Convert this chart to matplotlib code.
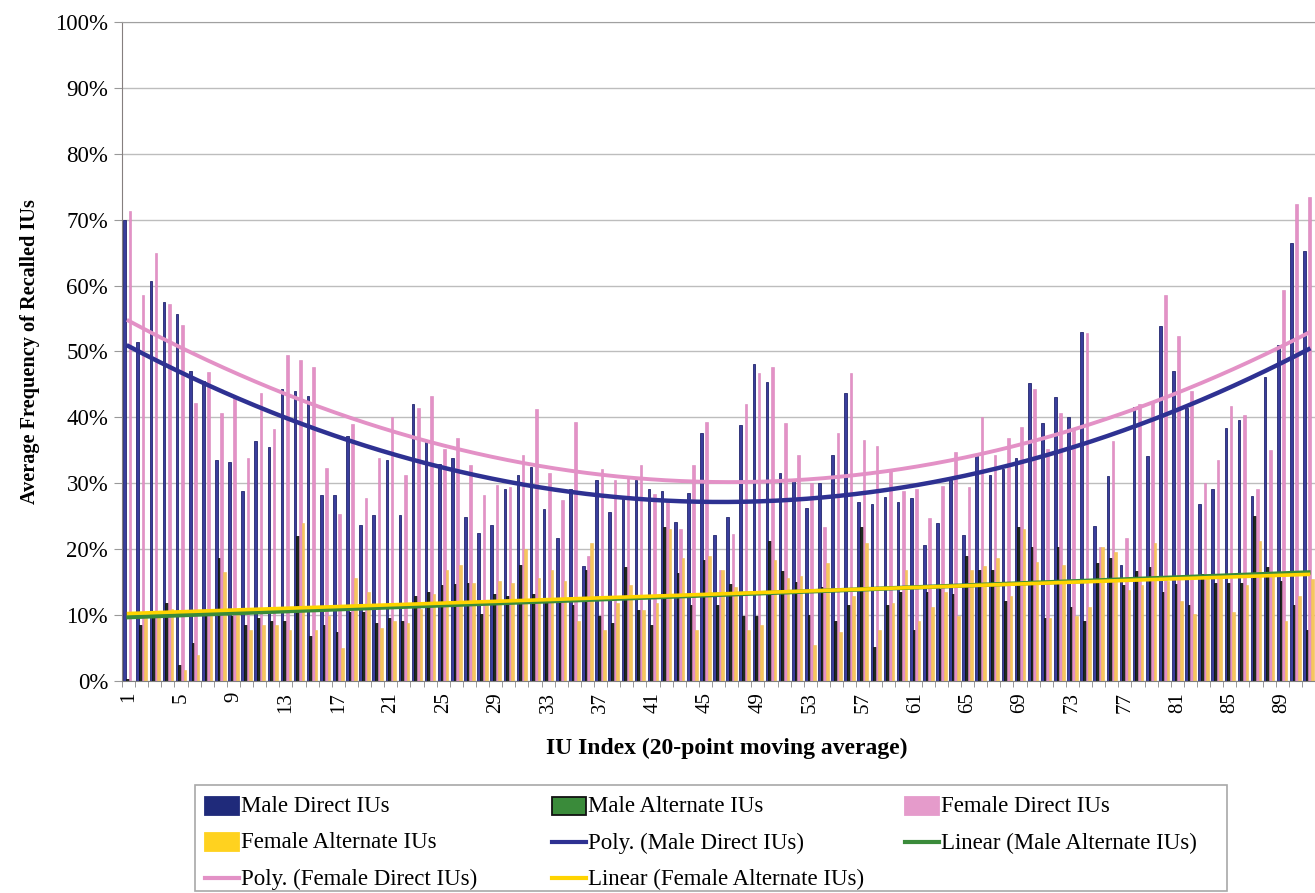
import numpy as np
import matplotlib
matplotlib.use("Agg")
import matplotlib.pyplot as plt
from matplotlib.patches import Rectangle
from matplotlib.ticker import PercentFormatter, MultipleLocator

plt.rcParams['font.family'] = ['Liberation Serif', 'DejaVu Serif']

# IU index 1..91 (the chart is cut at the right edge)
iu_index = np.arange(1, 92)

male_direct = [70.0, 51.5, 60.7, 57.5, 55.7, 47.0, 45.5, 33.6, 33.2, 28.9,
               36.4, 35.5, 44.3, 44.0, 43.3, 28.2, 28.2, 37.2, 23.7, 25.2,
               33.6, 25.2, 42.0, 36.2, 33.0, 33.9, 24.9, 22.5, 23.7, 29.1,
               31.3, 32.5, 26.1, 21.7, 29.1, 17.5, 30.5, 25.7, 27.8, 30.5,
               29.1, 28.9, 24.2, 28.6, 37.6, 22.1, 24.9, 38.8, 48.1, 45.4,
               31.5, 30.3, 26.2, 30.1, 34.3, 43.7, 27.2, 26.9, 27.9, 27.1,
               27.8, 20.7, 23.9, 30.5, 22.2, 34.3, 31.3, 32.2, 33.9, 45.2,
               39.1, 43.1, 40.0, 52.9, 23.5, 31.1, 17.6, 41.6, 34.2, 53.8,
               47.1, 41.5, 26.9, 29.1, 38.4, 39.6, 28.0, 46.2, 51.0, 66.4,
               65.3]

male_alternate = [0.3, 8.5, 10.2, 11.8, 2.4, 5.8, 10.5, 18.6, 9.8, 8.5,
                  9.5, 9.1, 9.1, 22.0, 6.8, 8.5, 7.4, 10.5, 10.5, 8.8,
                  9.5, 9.1, 12.9, 13.5, 14.6, 14.7, 14.9, 10.2, 13.2, 12.9,
                  17.6, 13.2, 12.5, 12.5, 11.5, 16.9, 9.8, 8.8, 17.3, 10.8,
                  8.5, 23.4, 16.4, 11.5, 18.3, 11.5, 14.7, 9.8, 9.8, 21.3,
                  16.7, 15.0, 10.0, 14.2, 9.1, 11.6, 23.4, 5.1, 11.5, 13.5,
                  7.8, 13.5, 13.9, 13.2, 19.0, 16.9, 16.9, 12.2, 23.4, 20.3,
                  9.5, 20.3, 11.3, 9.1, 17.9, 18.6, 14.6, 16.7, 17.3, 13.5,
                  14.7, 11.5, 16.2, 14.9, 14.9, 14.9, 25.1, 17.3, 15.2, 11.5,
                  7.8]

female_direct = [71.3, 58.6, 65.0, 57.2, 54.0, 42.2, 46.9, 40.6, 43.0, 33.8,
                 43.7, 38.3, 49.4, 48.7, 47.7, 32.3, 25.3, 39.0, 27.8, 33.9,
                 40.0, 31.3, 41.5, 43.3, 35.2, 36.8, 32.7, 28.2, 29.8, 29.5,
                 34.3, 41.3, 31.6, 27.4, 39.3, 19.0, 32.2, 30.5, 30.8, 32.8,
                 28.4, 27.1, 23.0, 32.8, 39.3, 16.9, 22.3, 42.0, 46.7, 47.6,
                 39.1, 34.3, 30.1, 23.4, 37.6, 46.7, 36.6, 35.7, 31.8, 28.8,
                 29.1, 24.7, 29.6, 34.7, 29.5, 40.1, 34.3, 36.8, 38.6, 44.3,
                 35.2, 40.6, 38.3, 52.8, 20.3, 36.4, 21.7, 42.0, 42.3, 58.6,
                 52.4, 44.0, 30.0, 33.5, 41.8, 40.3, 29.1, 35.0, 59.4, 72.4,
                 73.5]

female_alternate = [0.0, 9.5, 10.5, 11.0, 1.7, 4.0, 10.5, 16.6, 10.0, 7.8,
                    8.5, 8.5, 7.8, 24.0, 7.8, 9.8, 5.0, 15.6, 13.5, 8.1,
                    9.1, 8.8, 11.0, 13.2, 16.9, 17.6, 14.9, 11.5, 15.2, 14.9,
                    20.0, 15.6, 16.9, 15.2, 9.1, 21.0, 7.8, 11.8, 14.6, 10.8,
                    11.8, 23.0, 18.6, 7.8, 19.0, 16.9, 14.2, 7.8, 8.5, 18.3,
                    15.6, 15.9, 5.4, 17.9, 7.4, 12.9, 21.0, 7.8, 11.8, 16.9,
                    9.1, 11.2, 13.5, 9.8, 16.9, 17.4, 18.6, 12.9, 23.0, 18.0,
                    9.5, 17.6, 9.8, 11.2, 20.3, 19.5, 13.8, 14.6, 21.0, 15.2,
                    12.2, 10.2, 15.9, 15.9, 10.5, 14.6, 21.3, 16.6, 9.1, 12.9,
                    15.5]

tick_labels = [str(i) for i in range(1, 92, 4)]

c_md = '#2E3192'
c_ma = '#3A8B3A'
c_fd = '#E391C6'
c_fa = '#F6C65E'

fig = plt.figure(figsize=(13.15, 8.93), dpi=100)
fig.patch.set_facecolor('white')
ax = fig.add_axes([0.0928, 0.2374, 0.9072, 0.738])

x = iu_index.astype(float)
w = 0.2
ax.bar(x - 0.3, male_direct, width=w, color='#3A3E9C', edgecolor='#23266E', linewidth=0.6, zorder=2)
ax.bar(x - 0.1, male_alternate, width=w, color='#1E2A1E', edgecolor='#111111', linewidth=0.6, zorder=2)
ax.bar(x + 0.1, female_direct, width=w, color=c_fd, edgecolor='#D985BC', linewidth=0.4, zorder=2)
ax.bar(x + 0.3, female_alternate, width=w, color=c_fa, edgecolor='#F2BD55', linewidth=0.4, zorder=2)

# Excel style trendlines: 2nd order poly for direct, linear for alternate
xs = np.linspace(1, iu_index[-1], 300)
p_md = np.polyfit(x, male_direct, 2)
p_fd = np.polyfit(x, female_direct, 2)
l_ma = np.polyfit(x, male_alternate, 1)
l_fa = np.polyfit(x, female_alternate, 1)
ax.plot(xs, np.polyval(p_md, xs), color=c_md, lw=3.2, zorder=4)
ax.plot(xs, np.polyval(p_fd, xs), color=c_fd, lw=2.8, zorder=4)
ax.plot(xs, np.polyval(l_ma, xs), color=c_ma, lw=3.2, zorder=4)
ax.plot(xs, np.polyval(l_fa, xs), color='#FFD400', lw=2.6, zorder=4)

ax.set_ylim(0, 100)
ax.set_xlim(0.58, 91.37)
ax.yaxis.set_major_locator(MultipleLocator(10))
ax.yaxis.set_major_formatter(PercentFormatter(decimals=0))
ax.grid(axis='y', color='#BDBDBD', lw=1.0, zorder=0)
ax.set_axisbelow(True)

ax.set_xticks(range(1, 92, 4))
ax.set_xticklabels(tick_labels, rotation=90, fontsize=15)
ax.set_xticks(np.arange(0.5, 92, 1), minor=True)
ax.tick_params(axis='x', which='major', length=0, pad=8)
ax.tick_params(axis='x', which='minor', length=4, color='#888888')
ax.tick_params(axis='y', length=6, color='#999999', labelsize=16.5, pad=4)

ax.spines['right'].set_visible(False)
ax.spines['top'].set_color('#A0A0A0')
ax.spines['left'].set_color('#857F7F')
ax.spines['bottom'].set_color('#808080')

ax.set_ylabel('Average Frequency of Recalled IUs', fontsize=14.6, fontweight='bold')
ax.yaxis.set_label_coords(-0.069, 0.5)
ax.set_xlabel('IU Index (20-point moving average)', fontsize=17, fontweight='bold')
ax.xaxis.set_label_coords(0.507, -0.086)

# legend laid out like the Excel one: three equal columns
lax = fig.add_axes([0, 0, 1, 1], zorder=-1)
lax.set_xlim(0, 1315)
lax.set_ylim(893, 0)
lax.axis('off')
lax.add_patch(Rectangle((195, 785), 1032, 106, fill=False, edgecolor='#A8A8A8', lw=1.2))

entries = [
    ('patch', '#1F2A7A', '#1F2A7A', 'Male Direct IUs'),
    ('patch', '#3A8B3A', '#111111', 'Male Alternate IUs'),
    ('patch', '#E59BCB', '#E59BCB', 'Female Direct IUs'),
    ('patch', '#FFD21F', '#FFD21F', 'Female Alternate IUs'),
    ('line', c_md, None, 'Poly. (Male Direct IUs)'),
    ('line', c_ma, None, 'Linear (Male Alternate IUs)'),
    ('line', c_fd, None, 'Poly. (Female Direct IUs)'),
    ('line', '#FFD400', None, 'Linear (Female Alternate IUs)'),
]
col_x = [205, 552, 905]
row_y = [806, 842, 878]
for i, (kind, fc, ec, label) in enumerate(entries):
    cx = col_x[i % 3]
    cy = row_y[i // 3]
    if kind == 'patch':
        lax.add_patch(Rectangle((cx, cy - 9), 34, 18, facecolor=fc, edgecolor=ec, lw=1.3))
    else:
        lax.plot([cx, cx + 34], [cy, cy], color=fc, lw=3)
    lax.text(cx + 36, cy + 1, label, fontsize=16.5, va='center', ha='left')

fig.savefig('out.png', dpi=100)
